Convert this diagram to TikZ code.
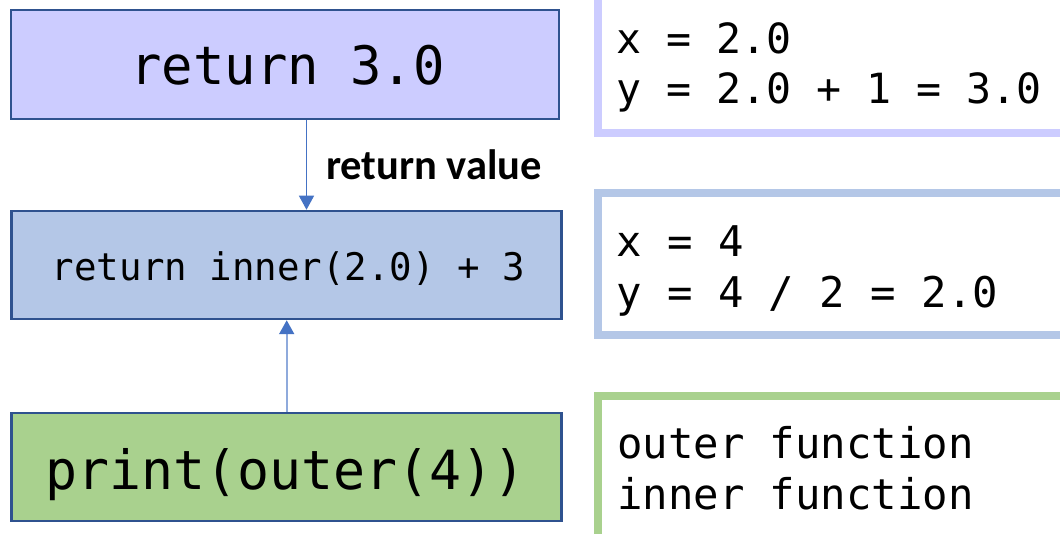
\documentclass[tikz,border=0pt]{standalone}
\usepackage{fontspec}
\setmonofont{DejaVu Sans Mono}[FakeStretch=0.985]
\newfontfamily\panelfont{DejaVu Sans Mono}
\newfontfamily\labelfont{Carlito}
\usetikzlibrary{arrows.meta}
\definecolor{boxborder}{HTML}{2F528F}
\definecolor{fillA}{HTML}{CCCCFF}
\definecolor{fillB}{HTML}{B4C7E7}
\definecolor{fillC}{HTML}{A9D18E}
\definecolor{arrowblue}{HTML}{4472C4}
\definecolor{arrowlight}{HTML}{8FAADC}
\tikzset{
  codebox/.style={draw=boxborder, line width=2.5pt, minimum width=550pt, minimum height=108pt, inner sep=0pt},
  codetext/.style={anchor=base, inner sep=0pt, font=\ttfamily},
  panel/.style={line width=8pt},
  paneltext/.style={anchor=base west, inner sep=0pt, font=\panelfont\fontsize{42.3}{48}\selectfont},
  arrowtip/.style={-{Triangle[width=15pt,length=14pt,color=arrowblue]}},
}
\begin{document}
\begin{tikzpicture}[x=1pt,y=-1pt]
\useasboundingbox (0,0) rectangle (1060,534);
\clip (0,0) rectangle (1060,534);
\fill[white] (0,0) rectangle (1060,534);
% left boxes
\node[codebox, fill=fillA, minimum width=548pt, minimum height=109pt] (b1) at (285,64.5) {};
\node[codebox, fill=fillB] (b2) at (286.5,265) {};
\node[codebox, fill=fillC] (b3) at (286.5,467) {};
\node[codetext, font=\ttfamily\fontsize{53}{60}\selectfont] (t1) at (287.5,85) {return 3.0};
\node[codetext, font=\ttfamily\fontsize{38}{44}\selectfont] (t2) at (288.5,280.7) {return inner(2.0) + 3};
\node[codetext, font=\ttfamily\fontsize{54}{60}\selectfont] (t3) at (285.5,489.3) {print(outer(4))};
% connectors
\coordinate (a1) at (306.5,0);
\coordinate (a2) at (286.7,0);
\draw[arrowtip, draw=arrowblue, line width=1.2pt] (b1.south -| a1) -- (b2.north -| a1);
\draw[arrowtip, draw=arrowlight, line width=2pt] (b3.north -| a2) -- (b2.south -| a2);
\node[anchor=base west, inner sep=0pt, font=\labelfont\bfseries\fontsize{42.5}{48}\selectfont] (lbl) at (326,180) {return value};
% right panels
\draw[panel, draw=fillA] (598,-50) rectangle (1120,133);
\draw[panel, draw=fillB] (598,193.5) rectangle (1120,335.5);
\draw[panel, draw=fillC] (598,396) rectangle (1120,600);
\node[paneltext, font=\panelfont\fontsize{41.6}{48}\selectfont] (p1a) at (616,54) {x = 2.0};
\node[paneltext, font=\panelfont\fontsize{41.6}{48}\selectfont] (p1b) at (616,104) {y = 2.0 + 1 = 3.0};
\node[paneltext] (p2a) at (616,257) {x = 4};
\node[paneltext] (p2b) at (616,308) {y = 4 / 2 = 2.0};
\node[paneltext] (p3a) at (617,458) {outer function};
\node[paneltext] (p3b) at (617,509) {inner function};
\end{tikzpicture}
\end{document}
